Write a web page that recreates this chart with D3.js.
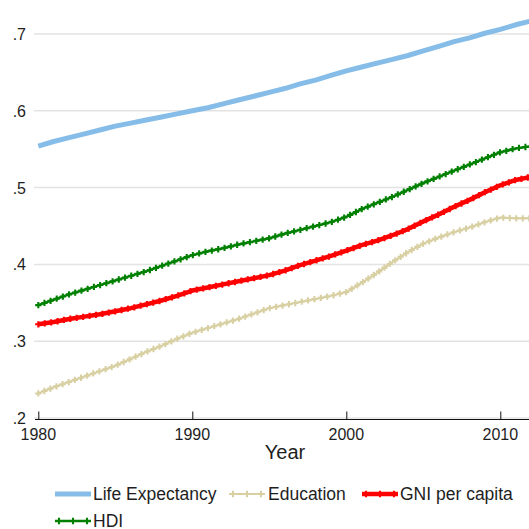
<!DOCTYPE html>
<html>
<head>
	<meta charset="utf-8">
	<title></title>
	<script src="https://d3js.org/d3.v7.min.js"></script>
	<style>
		body { margin: 0; background: #fff; }
		text { font-family: "Liberation Sans", Arial, sans-serif; fill: #1e1e1e; }
	</style>
</head>
<body>

<script>

var width = 529
var height = 529

// data
var years = d3.range(1980, 2013)
var lifeExp = [.554, .560, .565, .570, .575, .580, .584, .588, .592, .596,
	.600, .604, .609, .614, .619, .624, .629, .635, .640, .646,
	.652, .657, .662, .667, .672, .678, .684, .690, .695, .701,
	.706, .712, .717]
var education = [.232, .240, .247, .254, .261, .268, .277, .286, .294, .303,
	.311, .317, .323, .329, .336, .343, .347, .351, .355, .359,
	.364, .376, .389, .403, .416, .427, .435, .442, .448, .455,
	.461, .460, .460]
var gni = [.322, .325, .329, .332, .335, .339, .343, .348, .353, .359,
	.366, .370, .374, .378, .382, .386, .392, .399, .405, .411,
	.418, .425, .431, .438, .446, .456, .465, .475, .484, .494,
	.503, .510, .514]
var hdi = [.347, .354, .361, .367, .373, .379, .385, .391, .398, .405,
	.412, .417, .421, .426, .430, .434, .440, .445, .450, .455,
	.462, .472, .480, .488, .497, .506, .514, .522, .530, .538,
	.546, .551, .554]

var xTicks = [1980, 1990, 2000, 2010]
var yTicks = [.2, .3, .4, .5, .6, .7]
var seriesNames = ["Life Expectancy", "Education", "GNI per capita", "HDI"]

var series = [
	{name: seriesNames[0], values: lifeExp, color: "#86bde8", width: 5, marks: false},
	{name: seriesNames[1], values: education, color: "#d8d0a2", width: 2, marks: true},
	{name: seriesNames[2], values: gni, color: "#ff0000", width: 4.5, marks: true},
	{name: seriesNames[3], values: hdi, color: "#008000", width: 2.5, marks: true}
]

var svg = d3.select('body').append('svg')
	.attr('width', width)
	.attr('height', height)

var x = d3.scaleLinear().domain([1980, 2010]).range([38.3, 500.3])
var y = d3.scaleLinear().domain([0.2, 0.7]).range([418, 34])

// gridlines
svg.append("g")
	.selectAll("line")
	.data(yTicks)
	.enter().append("line")
	.attr("x1", 34)
	.attr("x2", width)
	.attr("y1", function(d) { return y(d); })
	.attr("y2", function(d) { return y(d); })
	.attr("stroke", "#e3e3e3")
	.attr("stroke-width", 1.5)

// y labels (no axis line)
svg.append("g")
	.selectAll("text")
	.data(yTicks)
	.enter().append("text")
	.attr("x", 26)
	.attr("y", function(d) { return y(d) + 6; })
	.attr("text-anchor", "end")
	.style("font-size", "16px")
	.text(function(d) { return d3.format(".1f")(d).replace(/^0/, ""); })

// x axis
var xAxis = svg.append("g")
	.attr("transform", "translate(0,419.5)")
	.call(d3.axisTop(x).tickValues(xTicks).tickSize(8).tickFormat(""))
xAxis.select(".domain").attr("d", "M35,0H" + width).attr("stroke", "#111")
xAxis.selectAll(".tick line").attr("stroke", "#111")

svg.append("g")
	.selectAll("text")
	.data(xTicks)
	.enter().append("text")
	.attr("x", function(d) { return x(d); })
	.attr("y", 440)
	.attr("text-anchor", "middle")
	.style("font-size", "16px")
	.text(function(d) { return d; })

svg.append("text")
	.attr("x", 285)
	.attr("y", 459)
	.attr("text-anchor", "middle")
	.style("font-size", "20px")
	.text("Year")

var line = d3.line()
	.x(function(d, i) { return x(years[i]); })
	.y(function(d) { return y(d); })

var cross = d3.symbol().type(d3.symbolCross).size(22)

series.forEach(function(s) {
	var g = svg.append("g")
	var path = g.append("path")
		.datum(s.values)
		.attr("d", line)
		.attr("fill", "none")
		.attr("stroke", s.color)
		.attr("stroke-width", s.width)
		.attr("stroke-linejoin", "round")
	if (s.marks) {
		// small plus markers strung along the line
		var node = path.node()
		var len = node.getTotalLength()
		var pts = d3.range(0, len, 6.5).map(function(l) { return node.getPointAtLength(l); })
		g.selectAll(".m")
			.data(pts)
			.enter().append("path")
			.attr("d", cross)
			.attr("transform", function(p) { return "translate(" + p.x + "," + p.y + ")"; })
			.attr("fill", s.color)
	}
})

// legend
var legendPos = [
	{x: 55, y: 494},
	{x: 229, y: 494},
	{x: 362, y: 494},
	{x: 55, y: 521}
]

series.forEach(function(s, i) {
	var p = legendPos[i]
	var g = svg.append("g").attr("transform", "translate(" + p.x + "," + p.y + ")")
	g.append("line")
		.attr("x1", 0).attr("x2", 36)
		.attr("stroke", s.color)
		.attr("stroke-width", s.width)
	if (s.marks) {
		g.selectAll(".m")
			.data([4, 18, 32])
			.enter().append("path")
			.attr("d", cross)
			.attr("transform", function(d) { return "translate(" + d + ",0)"; })
			.attr("fill", s.color)
	}
	g.append("text")
		.attr("x", i == 1 ? 39 : 38)
		.attr("y", 6)
		.style("font-size", "17.5px")
		.text(s.name)
})

</script>

</body>
</html>
